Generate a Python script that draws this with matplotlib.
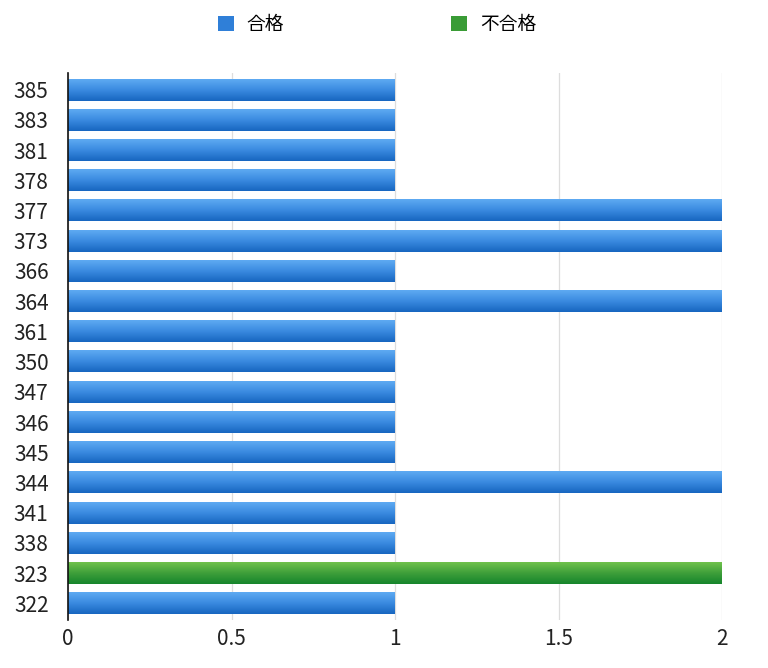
import numpy as np
import matplotlib
matplotlib.use("Agg")
import matplotlib.pyplot as plt
from matplotlib.colors import LinearSegmentedColormap
from matplotlib.patches import Patch

plt.rcParams['font.family'] = ['Noto Sans CJK JP', 'DejaVu Sans']

# data (bottom to top)
categories = ["322", "323", "338", "341", "344", "345", "346", "347", "350",
              "361", "364", "366", "373", "377", "378", "381", "383", "385"]
passed = [1, 0, 1, 1, 2, 1, 1, 1, 1, 1, 2, 1, 2, 2, 1, 1, 1, 1]
failed = [0, 2, 0, 0, 0, 0, 0, 0, 0, 0, 0, 0, 0, 0, 0, 0, 0, 0]
series_names = ["合格", "不合格"]

blue_cm = LinearSegmentedColormap.from_list("b", ["#1766c0", "#3a8ae0", "#5eaaf2"])
green_cm = LinearSegmentedColormap.from_list("g", ["#16852c", "#3e9f3a", "#70c24c"])

fig = plt.figure(figsize=(7.68, 6.68), dpi=100)
ax = fig.add_axes([68 / 768, 48 / 668, 654 / 768, 547 / 668])

y = np.arange(len(categories))
h = 0.72
b1 = ax.barh(y, passed, height=h, color="#3a8ae0", zorder=2)
b2 = ax.barh(y, failed, left=passed, height=h, color="#3e9f3a", zorder=2)

# gradient fill on each bar
grad = np.linspace(0, 1, 64).reshape(-1, 1)
for bars, cm in [(b1, blue_cm), (b2, green_cm)]:
    for p in bars:
        if p.get_width() <= 0:
            continue
        x0, y0 = p.get_x(), p.get_y()
        ax.imshow(grad, cmap=cm, aspect="auto", origin="lower",
                  extent=(x0, x0 + p.get_width(), y0, y0 + p.get_height()),
                  zorder=3)

ax.set_xlim(0, 2)
ax.set_ylim(-0.55, len(categories) - 0.45)
ax.set_xticks([0, 0.5, 1, 1.5, 2])
ax.set_xticklabels(["0", "0.5", "1", "1.5", "2"])
ax.set_yticks(y)
ax.set_yticklabels(categories)
ax.tick_params(axis="both", length=0, labelsize=15, colors="#222222")
ax.tick_params(axis="x", pad=6)
ax.tick_params(axis="y", pad=14)
ax.grid(axis="x", color="#dddddd", linewidth=0.9, zorder=0)
for s in ["top", "right", "bottom"]:
    ax.spines[s].set_visible(False)
ax.spines["left"].set_color("#111111")
ax.spines["left"].set_linewidth(1.2)
ax.spines["left"].set_zorder(5)

handles = [Patch(facecolor="#2f7fd8"), Patch(facecolor="#3a9c36")]
fig.legend(handles, series_names, loc="center", bbox_to_anchor=(0.491, 0.963),
           ncol=2, frameon=False, fontsize=13.5, columnspacing=8.9,
           handlelength=0.85, handleheight=0.85, handletextpad=0.7)

fig.savefig("out.png", dpi=100)
